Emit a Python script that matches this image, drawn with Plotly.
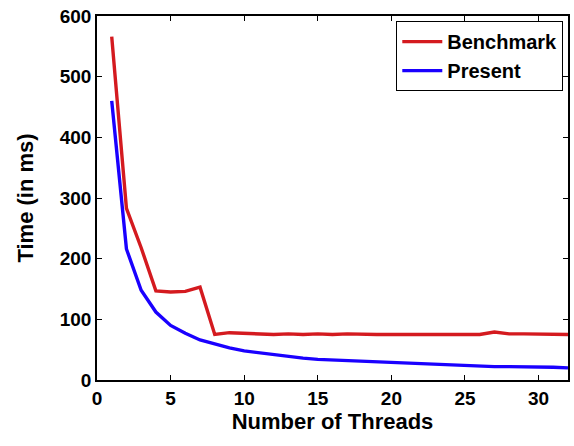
import plotly.graph_objects as go

threads = list(range(1, 33))
benchmark = [566, 283, 218, 147, 145, 146, 153, 75, 78, 77, 75, 75, 76, 75, 76, 75, 76, 75, 75, 75,
             75, 76, 75, 76, 75, 75, 79, 76, 76, 76, 75, 75]
present = [460, 216, 148, 112, 90, 77, 66, 59, 53, 48, 45, 41, 39, 36, 34, 33, 31, 30, 29, 28,
           27, 26, 25, 25, 24, 23, 22, 22, 22, 21, 21, 20]

FONT = "Arial, Liberation Sans, sans-serif"

fig = go.Figure()
fig.add_trace(go.Scatter(x=threads, y=benchmark, mode="lines", name="Benchmark",
                         line=dict(color="#d41a1f", width=3.4)))
fig.add_trace(go.Scatter(x=threads, y=present, mode="lines", name="Present",
                         line=dict(color="#1a00ff", width=3.4)))

axis_common = dict(showgrid=False, zeroline=False, showline=True, linecolor="black", linewidth=1.5,
                   mirror="ticks", ticks="inside", ticklen=5, tickwidth=1, tickcolor="black",
                   tickfont=dict(family=FONT, size=19, color="black", weight="bold"))

fig.update_xaxes(range=[0, 32], tickvals=[0, 5, 10, 15, 20, 25, 30],
                 title=dict(text="Number of Threads", font=dict(family=FONT, size=22, color="black", weight="bold"),
                            standoff=6),
                 **axis_common)
fig.update_yaxes(range=[0, 600], tickvals=[0, 100, 200, 300, 400, 500, 600],
                 title=dict(text="Time (in ms)", font=dict(family=FONT, size=22, color="black", weight="bold"),
                            standoff=20),
                 **axis_common)

fig.update_layout(
    width=574, height=446,
    margin=dict(l=97, r=4, t=16, b=66),
    plot_bgcolor="white", paper_bgcolor="white",
    legend=dict(x=0.99, y=0.986, xanchor="right", yanchor="top",
                bordercolor="black", borderwidth=1, bgcolor="white",
                font=dict(family=FONT, size=20, color="black", weight="bold"),
                tracegroupgap=0, itemwidth=40),
    showlegend=True,
)

fig.write_html("out.html")
